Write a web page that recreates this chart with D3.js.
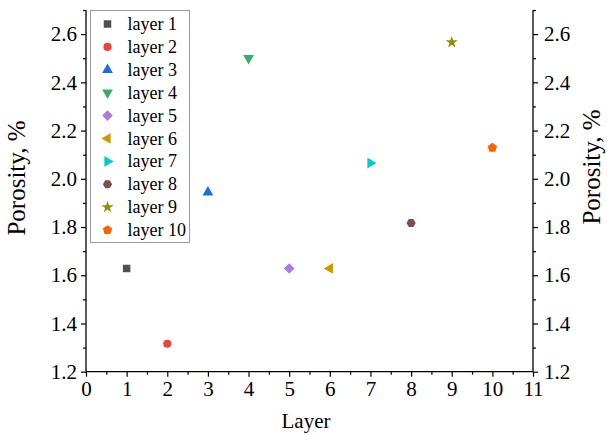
<!DOCTYPE html>
<html>
<head>
<meta charset="utf-8">
<script src="https://cdn.jsdelivr.net/npm/d3@7"></script>
<style>
    body { margin: 0; background: #fff; }
    svg { display: block; }
</style>
</head>
<body>
<div id="chart"></div>
<script>
// Dati
const layers = ['layer 1', 'layer 2', 'layer 3', 'layer 4', 'layer 5', 'layer 6', 'layer 7', 'layer 8', 'layer 9', 'layer 10'];
const layerX = [1, 2, 3, 4, 5, 6, 7, 8, 9, 10];
const porosity = [1.628, 1.316, 1.944, 2.50, 1.628, 1.628, 2.065, 1.817, 2.566, 2.129];
const xTicks = [0, 1, 2, 3, 4, 5, 6, 7, 8, 9, 10, 11];
const yTicks = [1.2, 1.4, 1.6, 1.8, 2.0, 2.2, 2.4, 2.6];

const colors = ['#515151', '#F14040', '#1A6FDF', '#37AD6B', '#B177DE', '#CC9900', '#00CBCC', '#7D4E4E', '#8E8E00', '#FB6501'];

const serif = '"Liberation Serif", "Times New Roman", Times, serif';

// simboli custom
function polygon(n, offset) {
    return {
        draw: function (context, size) {
            const r = Math.sqrt(size / (0.5 * n * Math.sin(2 * Math.PI / n)));
            for (let i = 0; i < n; i++) {
                const a = offset + i * 2 * Math.PI / n;
                const px = r * Math.sin(a), py = -r * Math.cos(a);
                if (i === 0) context.moveTo(px, py); else context.lineTo(px, py);
            }
            context.closePath();
        }
    };
}

const markers = [
    { type: d3.symbolSquare, size: 56, rot: 0 },
    { type: d3.symbolCircle, size: 52, rot: 0 },
    { type: d3.symbolTriangle, size: 50, rot: 0 },
    { type: d3.symbolTriangle, size: 50, rot: 180 },
    { type: d3.symbolSquare, size: 56, rot: 45 },
    { type: d3.symbolTriangle, size: 50, rot: -90 },
    { type: d3.symbolTriangle, size: 50, rot: 90 },
    { type: polygon(6, Math.PI / 6), size: 55, rot: 0 },
    { type: d3.symbolStar, size: 45, rot: 0 },
    { type: polygon(5, 0), size: 58, rot: 0 }
];

const width = 607;
const height = 435;
const margin = { top: 10, right: 74, bottom: 63.3, left: 86 };

const svg = d3.select('#chart')
    .append('svg')
    .attr('width', width)
    .attr('height', height);

const x = d3.scaleLinear()
    .domain([0, 11])
    .range([margin.left, width - margin.right]);

const y = d3.scaleLinear()
    .domain([1.2, 2.7])
    .range([height - margin.bottom, margin.top]);

const minorX = d3.range(0.5, 11, 1);
const minorY = d3.range(1.3, 2.75, 0.2);

// Asse X
const xAxis = svg.append('g')
    .attr('transform', `translate(0,${y(1.2)})`)
    .call(d3.axisBottom(x).tickValues(xTicks).tickSize(5).tickPadding(4).tickFormat(d3.format('d')));
svg.append('g')
    .attr('transform', `translate(0,${y(1.2)})`)
    .call(d3.axisBottom(x).tickValues(minorX).tickSize(3).tickFormat(''))
    .select('.domain').remove();

// Assi Y sinistro e destro
const yLeft = svg.append('g')
    .attr('transform', `translate(${x(0)},0)`)
    .call(d3.axisLeft(y).tickValues(yTicks).tickSize(5).tickPadding(4).tickFormat(d3.format('.1f')));
svg.append('g')
    .attr('transform', `translate(${x(0)},0)`)
    .call(d3.axisLeft(y).tickValues(minorY).tickSize(3).tickFormat(''))
    .select('.domain').remove();

const yRight = svg.append('g')
    .attr('transform', `translate(${x(11)},0)`)
    .call(d3.axisRight(y).tickValues(yTicks).tickSize(5).tickPadding(6).tickFormat(d3.format('.1f')));
svg.append('g')
    .attr('transform', `translate(${x(11)},0)`)
    .call(d3.axisRight(y).tickValues(minorY).tickSize(3).tickFormat(''))
    .select('.domain').remove();

svg.selectAll('.domain').attr('stroke', '#000').attr('stroke-width', 1.3);
svg.selectAll('.tick line').attr('stroke', '#000').attr('stroke-width', 1.2);
svg.selectAll('g').attr('font-family', serif);
svg.selectAll('.tick text')
    .attr('fill', '#000')
    .style('font-family', serif)
    .style('font-size', '21px');
xAxis.selectAll('.domain').attr('d', `M${x(0)},0H${x(11)}`);
yLeft.select('.domain').attr('d', `M0,${y(1.2)}V${y(2.7)}`);
yRight.select('.domain').attr('d', `M0,${y(1.2)}V${y(2.7)}`);

// Etichette assi
svg.append('text')
    .attr('x', 306)
    .attr('y', 428)
    .attr('text-anchor', 'middle')
    .style('font-family', serif)
    .style('font-size', '21px')
    .text('Layer');

svg.append('text')
    .attr('transform', 'translate(25,178) rotate(-90)')
    .attr('text-anchor', 'middle')
    .style('font-family', serif)
    .style('font-size', '25px')
    .text('Porosity, %');

svg.append('text')
    .attr('transform', 'translate(600,167) rotate(-90)')
    .attr('text-anchor', 'middle')
    .style('font-family', serif)
    .style('font-size', '25px')
    .text('Porosity, %');

// Punti
const sym = (i) => d3.symbol().type(markers[i].type).size(markers[i].size)();

svg.append('g')
    .selectAll('path')
    .data(layers)
    .join('path')
    .attr('d', (d, i) => sym(i))
    .attr('transform', (d, i) => `translate(${x(layerX[i])},${y(porosity[i])}) rotate(${markers[i].rot})`)
    .attr('fill', (d, i) => colors[i]);

// Legenda
const legend = svg.append('g');
legend.append('rect')
    .attr('x', 90.5)
    .attr('y', 10.5)
    .attr('width', 99)
    .attr('height', 232)
    .attr('fill', '#fff')
    .attr('stroke', '#9a9a9a')
    .attr('stroke-width', 1);

const rows = legend.selectAll('g.row')
    .data(layers)
    .join('g')
    .attr('class', 'row')
    .attr('transform', (d, i) => `translate(0,${24 + i * 22.9})`);

rows.append('path')
    .attr('d', (d, i) => sym(i))
    .attr('transform', (d, i) => `translate(107.5,0) rotate(${markers[i].rot})`)
    .attr('fill', (d, i) => colors[i]);

rows.append('text')
    .attr('x', 127.5)
    .attr('y', 6)
    .style('font-family', serif)
    .style('font-size', '18px')
    .text(d => d);
</script>
</body>
</html>
